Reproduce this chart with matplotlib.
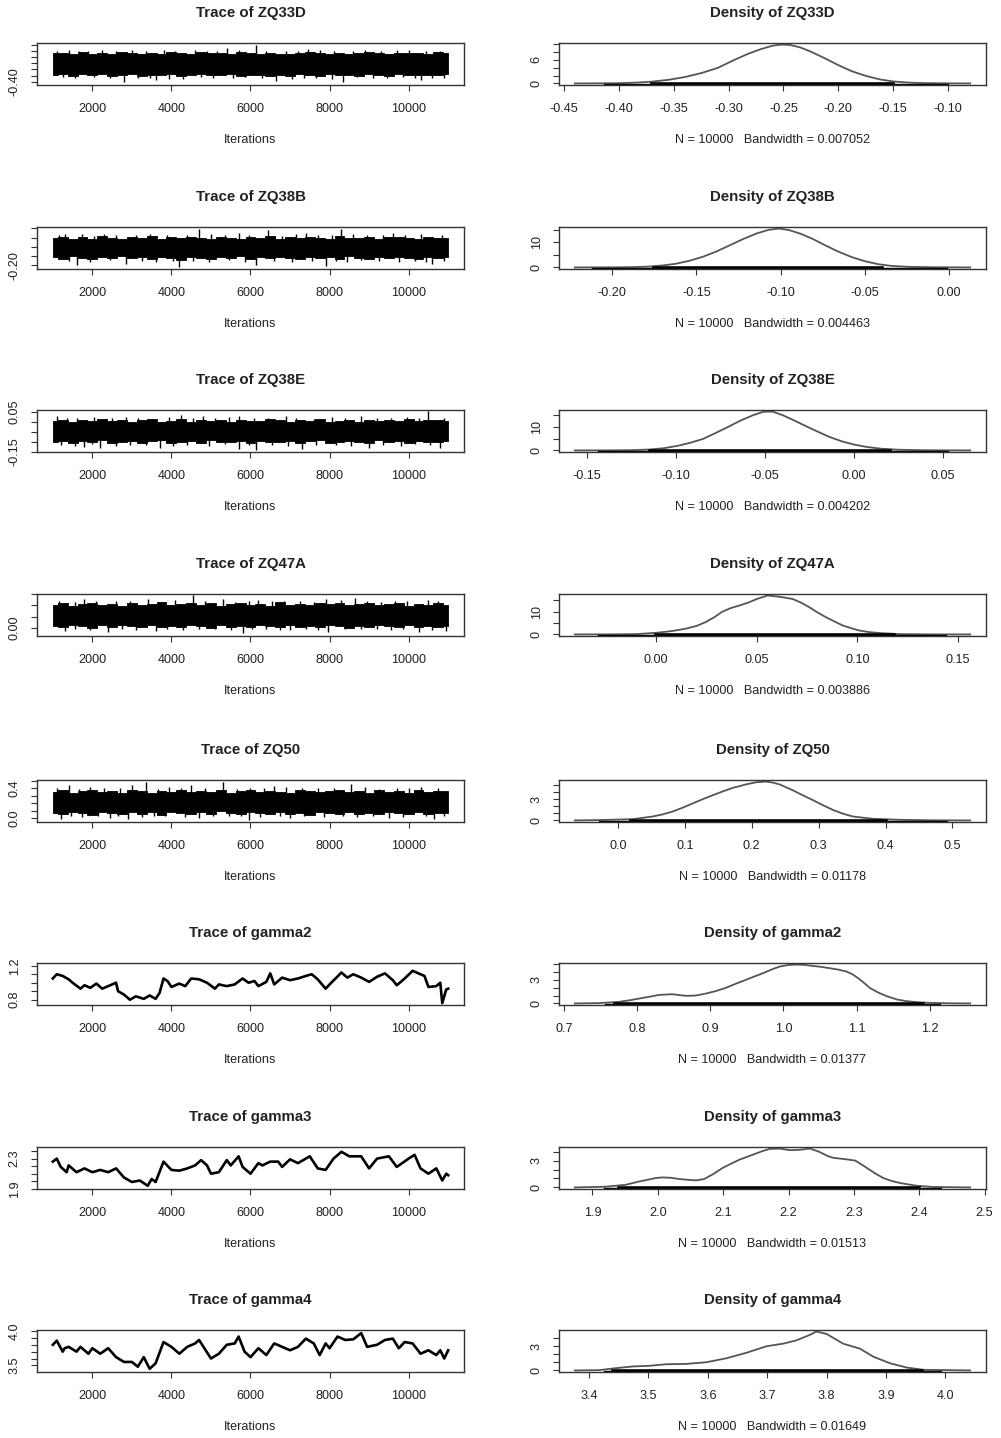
import numpy as np
import matplotlib.pyplot as plt

plt.rcParams['font.family'] = ['Liberation Sans', 'DejaVu Sans']
plt.rcParams['axes.unicode_minus'] = False

W, H = 1001, 1438

# ---- data ----
names = ['ZQ33D', 'ZQ38B', 'ZQ38E', 'ZQ47A', 'ZQ50', 'gamma2', 'gamma3', 'gamma4']
bandwidths = ['0.007052', '0.004463', '0.004202', '0.003886', '0.01178', '0.01377', '0.01513', '0.01649']
n_draws = 10000
first_iter, last_iter = 1000, 11000
iter_ticks = [2000, 4000, 6000, 8000, 10000]

# range of the draws (ends of the rug) and dense part of the rug
draw_min = [-0.413, -0.212, -0.144, -0.029, -0.029, 0.756, 1.918, 3.426]
draw_max = [-0.100, -0.001, 0.053, 0.144, 0.492, 1.214, 2.433, 3.993]
rug_lo = [-0.37, -0.175, -0.115, 0.000, 0.02, 0.77, 1.94, 3.44]
rug_hi = [-0.15, -0.040, 0.020, 0.118, 0.40, 1.19, 2.40, 3.96]

# trace y axis ticks ('' = tick without label)
trace_ytick_labels = [
    ['-0.40', '', '', '', '', '', ''],
    ['-0.20', '', '', '', ''],
    ['-0.15', '', '', '', '0.05'],
    ['0.00', '', '', ''],
    ['0.0', '', '', '', '0.4', ''],
    ['0.8', '', '', '', '1.2'],
    ['1.9', '', '', '', '2.3', ''],
    ['3.5', '', '', '', '', '4.0'],
]
trace_yticks = [
    [-0.40, -0.35, -0.30, -0.25, -0.20, -0.15, -0.10],
    [-0.20, -0.15, -0.10, -0.05, 0.00],
    [-0.15, -0.10, -0.05, 0.00, 0.05],
    [0.00, 0.05, 0.10, 0.15],
    [0.0, 0.1, 0.2, 0.3, 0.4, 0.5],
    [0.8, 0.9, 1.0, 1.1, 1.2],
    [1.9, 2.0, 2.1, 2.2, 2.3, 2.4],
    [3.5, 3.6, 3.7, 3.8, 3.9, 4.0],
]

# density axes ticks
dens_xtick_labels = [
    ['-0.45', '-0.40', '-0.35', '-0.30', '-0.25', '-0.20', '-0.15', '-0.10'],
    ['-0.20', '-0.15', '-0.10', '-0.05', '0.00'],
    ['-0.15', '-0.10', '-0.05', '0.00', '0.05'],
    ['0.00', '0.05', '0.10', '0.15'],
    ['0.0', '0.1', '0.2', '0.3', '0.4', '0.5'],
    ['0.7', '0.8', '0.9', '1.0', '1.1', '1.2'],
    ['1.9', '2.0', '2.1', '2.2', '2.3', '2.4', '2.5'],
    ['3.4', '3.5', '3.6', '3.7', '3.8', '3.9', '4.0'],
]
dens_yticks = [
    [0, 2, 4, 6, 8, 10],
    [0, 5, 10, 15],
    [0, 5, 10, 15],
    [0, 5, 10, 15],
    [0, 1, 2, 3, 4, 5],
    [0, 1, 2, 3, 4, 5],
    [0, 1, 2, 3, 4],
    [0, 1, 2, 3, 4],
]
dens_ytick_labels = [
    ['0', '', '', '6', '', ''],
    ['0', '', '10', ''],
    ['0', '', '10', ''],
    ['0', '', '10', ''],
    ['0', '', '', '3', '', ''],
    ['0', '', '', '3', '', ''],
    ['0', '', '', '3', ''],
    ['0', '', '', '3', ''],
]

# density curves
dens_x_zq33d = [-0.440, -0.420, -0.400, -0.385, -0.370, -0.355, -0.340, -0.325, -0.310, -0.295,
                -0.282, -0.270, -0.260, -0.252, -0.244, -0.235, -0.225, -0.212, -0.200, -0.188,
                -0.175, -0.162, -0.150, -0.135, -0.120, -0.100, -0.080]
dens_y_zq33d = [0.0, 0.02, 0.07, 0.2, 0.45, 0.9, 1.6, 2.6, 3.9, 5.9,
                7.5, 8.7, 9.5, 9.8, 9.7, 9.1, 8.0, 6.3, 4.6, 3.1,
                1.9, 1.0, 0.5, 0.2, 0.08, 0.02, 0.0]
dens_x_zq38b = [-0.2223, -0.200, -0.188, -0.178, -0.170, -0.162, -0.154, -0.146, -0.138, -0.130,
                -0.122, -0.114, -0.107, -0.101, -0.095, -0.088, -0.081, -0.074, -0.066, -0.058,
                -0.050, -0.042, -0.034, -0.024, -0.010, 0.0127]
dens_y_zq38b = [0.0, 0.05, 0.12, 0.35, 0.8, 1.5, 2.7, 4.3, 6.4, 8.9,
                11.4, 13.6, 15.0, 15.5, 14.9, 13.4, 11.4, 9.0, 6.4, 4.2,
                2.5, 1.3, 0.6, 0.25, 0.08, 0.0]
dens_x_zq38e = [-0.157, -0.135, -0.125, -0.115, -0.107, -0.099, -0.092, -0.085, -0.078, -0.071,
                -0.064, -0.057, -0.051, -0.046, -0.040, -0.034, -0.028, -0.021, -0.014, -0.007,
                0.000, 0.007, 0.015, 0.025, 0.040, 0.0652]
dens_y_zq38e = [0.0, 0.05, 0.12, 0.4, 0.95, 2.0, 3.3, 4.9, 7.4, 10.0,
                12.7, 15.0, 16.5, 16.6, 15.0, 12.9, 10.7, 8.2, 5.8, 3.9,
                2.5, 1.5, 0.75, 0.3, 0.08, 0.0]
dens_x_zq47a = [-0.0404, -0.020, -0.010, 0.000, 0.008, 0.0146, 0.020, 0.0246, 0.029, 0.033,
                0.037, 0.0412, 0.046, 0.050, 0.0553, 0.0611, 0.0678, 0.072, 0.0761, 0.080,
                0.0844, 0.089, 0.0927, 0.097, 0.101, 0.106, 0.111, 0.121, 0.135, 0.156]
dens_y_zq47a = [0.0, 0.05, 0.15, 0.7, 1.5, 2.5, 3.7, 5.4, 7.6, 10.0,
                11.5, 12.6, 14.0, 15.5, 17.0, 16.5, 15.5, 13.9, 11.9, 9.7,
                7.5, 5.5, 3.9, 2.7, 1.7, 1.0, 0.6, 0.15, 0.04, 0.0]
dens_x_zq50 = [-0.0645, -0.0285, 0.0215, 0.0515, 0.0665, 0.0815, 0.0965, 0.1115, 0.1265, 0.1415,
               0.1565, 0.1715, 0.1915, 0.2065, 0.2215, 0.2315, 0.2415, 0.2615, 0.2765, 0.2915,
               0.3065, 0.3215, 0.3365, 0.3515, 0.3815, 0.4215, 0.4700, 0.5265]
dens_y_zq50 = [0.0, 0.05, 0.18, 0.55, 0.85, 1.25, 1.8, 2.4, 3.0, 3.56,
               4.1, 4.6, 5.1, 5.4, 5.5, 5.35, 5.1, 4.26, 3.55, 2.87,
               2.15, 1.48, 0.95, 0.55, 0.23, 0.09, 0.02, 0.0]
dens_x_gamma2 = [0.715, 0.748, 0.775, 0.790, 0.803, 0.817, 0.830, 0.848, 0.867, 0.880,
                 0.894, 0.907, 0.921, 0.935, 0.949, 0.960, 0.972, 0.984, 0.995, 1.006,
                 1.017, 1.028, 1.040, 1.052, 1.063, 1.075, 1.086, 1.094, 1.102, 1.110,
                 1.118, 1.130, 1.141, 1.155, 1.168, 1.185, 1.200, 1.225, 1.255]
dens_y_gamma2 = [0.0, 0.04, 0.2, 0.4, 0.62, 0.85, 1.08, 1.17, 0.96, 1.0,
                 1.25, 1.55, 1.96, 2.5, 3.0, 3.4, 3.83, 4.3, 4.67, 4.85,
                 4.92, 4.88, 4.75, 4.62, 4.46, 4.28, 4.04, 3.7, 3.2, 2.6,
                 1.96, 1.35, 0.92, 0.5, 0.29, 0.14, 0.08, 0.02, 0.0]
dens_x_gamma3 = [1.873, 1.920, 1.951, 1.972, 1.997, 2.007, 2.020, 2.033, 2.046, 2.059,
                 2.071, 2.085, 2.099, 2.112, 2.125, 2.146, 2.160, 2.171, 2.186, 2.202,
                 2.217, 2.233, 2.248, 2.260, 2.269, 2.284, 2.302, 2.311, 2.320, 2.333,
                 2.345, 2.358, 2.371, 2.396, 2.422, 2.478]
dens_y_gamma3 = [0.0, 0.08, 0.3, 0.67, 1.05, 1.12, 1.08, 0.94, 0.85, 0.79,
                 0.94, 1.5, 2.17, 2.65, 3.1, 3.67, 4.05, 4.3, 4.34, 4.16,
                 4.2, 4.34, 3.95, 3.5, 3.3, 3.18, 3.0, 2.6, 2.17, 1.55,
                 1.05, 0.72, 0.49, 0.19, 0.05, 0.0]
dens_x_gamma4 = [3.376, 3.417, 3.445, 3.473, 3.501, 3.530, 3.563, 3.597, 3.631, 3.665,
                 3.699, 3.727, 3.749, 3.772, 3.783, 3.800, 3.828, 3.856, 3.879, 3.907,
                 3.935, 3.963, 4.042]
dens_y_gamma4 = [0.0, 0.04, 0.28, 0.49, 0.57, 0.77, 0.81, 1.01, 1.5, 2.19,
                 3.0, 3.32, 3.72, 4.41, 4.82, 4.53, 3.32, 2.71, 1.7, 0.89,
                 0.36, 0.08, 0.0]

# well mixed chains: band edges every 250 iterations, plus the spikes sticking out
chain_centre = {'ZQ33D': -0.257, 'ZQ38B': -0.105, 'ZQ38E': -0.047, 'ZQ47A': 0.056, 'ZQ50': 0.215}
zq33d_hi = [-0.170, -0.165, -0.178, -0.160, -0.172, -0.168, -0.175, -0.162, -0.170, -0.176, -0.166,
            -0.172, -0.160, -0.169, -0.174, -0.158, -0.171, -0.165, -0.177, -0.163, -0.168, -0.175,
            -0.166, -0.172, -0.178, -0.168, -0.163, -0.171, -0.176, -0.165, -0.173, -0.169, -0.161,
            -0.170, -0.175, -0.164, -0.171, -0.167, -0.174, -0.163, -0.170]
zq33d_lo = [-0.345, -0.338, -0.352, -0.341, -0.348, -0.336, -0.350, -0.343, -0.339, -0.354, -0.342,
            -0.347, -0.337, -0.351, -0.344, -0.340, -0.349, -0.346, -0.338, -0.353, -0.342, -0.348,
            -0.357, -0.344, -0.350, -0.339, -0.346, -0.352, -0.341, -0.348, -0.343, -0.355, -0.340,
            -0.347, -0.351, -0.338, -0.345, -0.349, -0.342, -0.346, -0.340]
zq33d_spike_iter = [1400, 3000, 5400, 6150, 7450, 9700, 2800, 3600, 4300, 6650, 8350, 10300,
                    1100, 1650, 1900, 2250, 2600, 3350, 3800, 4100, 4600, 4900, 5150, 5700,
                    6400, 6900, 7200, 7750, 8100, 8600, 8900, 9300, 10000, 10450, 10800,
                    1250, 1550, 2050, 2450, 3150, 3450, 3950, 4750, 5050, 5550, 5850, 6300,
                    7050, 7350, 7650, 8050, 8700, 9100, 9450, 9850, 10150, 10600, 10900]
zq33d_spike_val = [-0.145, -0.140, -0.125, -0.100, -0.135, -0.140, -0.405, -0.385, -0.380, -0.390, -0.400, -0.385,
                   -0.150, -0.148, -0.155, -0.145, -0.152, -0.150, -0.147, -0.153, -0.146, -0.151, -0.149, -0.144,
                   -0.150, -0.155, -0.148, -0.146, -0.152, -0.149, -0.147, -0.153, -0.145, -0.150, -0.148,
                   -0.365, -0.370, -0.362, -0.372, -0.366, -0.368, -0.375, -0.364, -0.369, -0.371, -0.363, -0.367,
                   -0.374, -0.366, -0.370, -0.378, -0.365, -0.372, -0.368, -0.363, -0.371, -0.367, -0.369]

zq38b_hi = [-0.052, -0.045, -0.058, -0.048, -0.055, -0.043, -0.050, -0.057, -0.047, -0.053, -0.044,
            -0.056, -0.049, -0.054, -0.046, -0.051, -0.058, -0.045, -0.050, -0.055, -0.047, -0.052,
            -0.043, -0.056, -0.049, -0.054, -0.046, -0.051, -0.057, -0.044, -0.050, -0.053, -0.047,
            -0.055, -0.049, -0.045, -0.052, -0.056, -0.048, -0.051, -0.054]
zq38b_lo = [-0.158, -0.165, -0.152, -0.162, -0.168, -0.155, -0.160, -0.150, -0.163, -0.157, -0.166,
            -0.154, -0.161, -0.169, -0.153, -0.159, -0.164, -0.156, -0.162, -0.151, -0.167, -0.158,
            -0.163, -0.155, -0.160, -0.166, -0.153, -0.161, -0.157, -0.164, -0.152, -0.159, -0.168,
            -0.156, -0.162, -0.154, -0.160, -0.165, -0.157, -0.163, -0.158]
zq38b_spike_iter = [1300, 2300, 4700, 5700, 6450, 7400, 8300, 9600, 1600, 2850, 4200, 6150, 7900, 10600,
                    1150, 1750, 2050, 2600, 3100, 3450, 3900, 4400, 5000, 5350, 5950, 6800, 7150,
                    7700, 8050, 8600, 8950, 9350, 9900, 10300, 10850,
                    1400, 1950, 2450, 3250, 3600, 4050, 4550, 4950, 5450, 5850, 6600, 7050,
                    7550, 8150, 8450, 8800, 9250, 9750, 10150, 10450, 10900]
zq38b_spike_val = [-0.030, -0.028, -0.002, -0.025, -0.008, -0.026, -0.003, -0.027,
                   -0.200, -0.195, -0.208, -0.198, -0.205, -0.192,
                   -0.036, -0.033, -0.039, -0.034, -0.037, -0.031, -0.035, -0.038, -0.032, -0.036,
                   -0.034, -0.039, -0.033, -0.037, -0.035, -0.031, -0.038, -0.034, -0.036, -0.033, -0.037,
                   -0.176, -0.181, -0.174, -0.179, -0.183, -0.175, -0.178, -0.182, -0.173, -0.180,
                   -0.177, -0.184, -0.175, -0.179, -0.181, -0.174, -0.178, -0.182, -0.176, -0.180, -0.177]

zq38e_hi = [0.006, 0.012, 0.000, 0.009, 0.003, 0.014, 0.004, 0.010, -0.001, 0.008, 0.013,
            0.002, 0.007, 0.015, 0.001, 0.009, 0.005, 0.011, 0.000, 0.012, 0.006, 0.003,
            0.014, 0.008, 0.001, 0.010, 0.005, 0.013, 0.002, 0.007, 0.011, 0.000, 0.009,
            0.004, 0.012, 0.006, 0.015, 0.003, 0.008, 0.010, 0.004]
zq38e_lo = [-0.100, -0.094, -0.106, -0.097, -0.103, -0.092, -0.108, -0.099, -0.095, -0.104, -0.098,
            -0.093, -0.107, -0.101, -0.096, -0.105, -0.091, -0.100, -0.103, -0.097, -0.108, -0.094,
            -0.102, -0.099, -0.095, -0.106, -0.098, -0.092, -0.104, -0.100, -0.096, -0.103, -0.107,
            -0.093, -0.101, -0.098, -0.105, -0.095, -0.102, -0.099, -0.096]
zq38e_spike_iter = [1100, 2850, 4250, 4800, 5700, 6900, 8800, 10500, 1800, 2200, 3700, 5700, 6150, 7300, 9000, 10800,
                    1350, 1600, 2050, 2500, 3150, 3500, 3950, 4550, 5100, 5450, 6100, 6450, 7150,
                    7600, 8050, 8400, 9200, 9550, 9950, 10250, 10900,
                    1200, 1550, 2000, 2600, 2950, 3350, 4050, 4400, 4950, 5350, 5950, 6550, 6950,
                    7650, 8150, 8550, 9350, 9800, 10150, 10550]
zq38e_spike_val = [0.030, 0.025, 0.035, 0.030, 0.033, 0.030, 0.028, 0.055,
                   -0.128, -0.132, -0.130, -0.138, -0.143, -0.135, -0.130, -0.132,
                   0.021, 0.018, 0.024, 0.019, 0.022, 0.017, 0.023, 0.020, 0.018, 0.024, 0.021,
                   0.019, 0.022, 0.017, 0.023, 0.020, 0.018, 0.021, 0.024, 0.019, 0.022,
                   -0.115, -0.119, -0.113, -0.121, -0.117, -0.114, -0.120, -0.116, -0.122, -0.113,
                   -0.118, -0.115, -0.120, -0.117, -0.114, -0.121, -0.116, -0.119, -0.113, -0.118]

zq47a_hi = [0.104, 0.110, 0.098, 0.107, 0.113, 0.101, 0.106, 0.099, 0.111, 0.103, 0.108,
            0.115, 0.100, 0.106, 0.109, 0.102, 0.112, 0.097, 0.105, 0.110, 0.103, 0.108,
            0.099, 0.114, 0.104, 0.107, 0.101, 0.111, 0.106, 0.113, 0.100, 0.105, 0.109,
            0.102, 0.108, 0.111, 0.099, 0.106, 0.103, 0.110, 0.104]
zq47a_lo = [0.010, 0.004, 0.013, 0.007, 0.001, 0.011, 0.005, 0.014, 0.008, 0.002, 0.012,
            0.006, 0.009, 0.003, 0.013, 0.007, 0.000, 0.011, 0.005, 0.010, 0.004, 0.013,
            0.008, 0.002, 0.011, 0.006, 0.009, 0.003, 0.012, 0.007, 0.001, 0.010, 0.005,
            0.013, 0.008, 0.003, 0.011, 0.006, 0.009, 0.004, 0.010]
zq47a_spike_iter = [1800, 3400, 4550, 5300, 6200, 7900, 8650, 10500, 1300, 2400, 3600, 5800, 7000, 7950, 10250, 10950,
                    1150, 1550, 2100, 2600, 2950, 3750, 4100, 4850, 5600, 5950, 6550, 6850, 7250,
                    7600, 8300, 8950, 9300, 9650, 9950, 10750,
                    1550, 1950, 2750, 3100, 3900, 4300, 4700, 5100, 5500, 6050, 6400, 6750, 7400,
                    7700, 8400, 8800, 9200, 9550, 9850, 10600]
zq47a_spike_val = [0.130, 0.128, 0.146, 0.127, 0.124, 0.130, 0.133, 0.126,
                   -0.012, -0.020, -0.015, -0.022, -0.010, -0.018, -0.020, -0.014,
                   0.120, 0.117, 0.122, 0.118, 0.121, 0.116, 0.123, 0.119, 0.117, 0.122, 0.120,
                   0.118, 0.121, 0.116, 0.123, 0.119, 0.117, 0.121, 0.118, 0.122,
                   -0.006, -0.009, -0.004, -0.008, -0.005, -0.010, -0.006, -0.003, -0.009, -0.007,
                   -0.004, -0.008, -0.006, -0.010, -0.005, -0.007, -0.003, -0.009, -0.006, -0.008]

zq50_hi = [0.355, 0.375, 0.340, 0.365, 0.382, 0.350, 0.370, 0.345, 0.378, 0.360, 0.338,
           0.372, 0.356, 0.385, 0.348, 0.366, 0.352, 0.376, 0.343, 0.362, 0.380, 0.349,
           0.368, 0.357, 0.339, 0.374, 0.361, 0.346, 0.371, 0.383, 0.351, 0.364, 0.344,
           0.377, 0.358, 0.369, 0.341, 0.373, 0.354, 0.367, 0.360]
zq50_lo = [0.075, 0.058, 0.088, 0.065, 0.050, 0.082, 0.070, 0.055, 0.090, 0.062, 0.078,
           0.048, 0.085, 0.068, 0.057, 0.080, 0.060, 0.092, 0.066, 0.052, 0.083, 0.072,
           0.056, 0.087, 0.063, 0.077, 0.049, 0.081, 0.069, 0.058, 0.086, 0.064, 0.074,
           0.053, 0.089, 0.067, 0.059, 0.079, 0.061, 0.071, 0.066]
zq50_spike_iter = [1400, 3000, 3350, 4500, 5300, 6600, 8550, 10300, 1200, 2450, 2900, 4700, 5950, 7000, 9500, 10650,
                   1100, 1650, 1950, 2300, 2700, 3650, 3950, 4250, 4850, 5650, 6000, 6350, 6900,
                   7300, 7700, 8100, 8900, 9250, 9700, 10000, 10750,
                   1450, 1750, 2150, 2650, 3250, 3550, 3850, 4350, 5050, 5450, 5750, 6250, 6750,
                   7350, 7850, 8350, 8700, 9100, 9850, 10450, 10900]
zq50_spike_val = [0.44, 0.44, 0.49, 0.44, 0.48, 0.43, 0.46, 0.42,
                  -0.010, 0.000, -0.010, 0.010, -0.020, 0.000, 0.000, -0.015,
                  0.405, 0.395, 0.415, 0.400, 0.410, 0.398, 0.420, 0.403, 0.412, 0.396, 0.408,
                  0.401, 0.417, 0.399, 0.410, 0.404, 0.414, 0.397, 0.406, 0.411, 0.402,
                  0.030, 0.022, 0.035, 0.025, 0.018, 0.032, 0.027, 0.020, 0.034, 0.024,
                  0.029, 0.019, 0.033, 0.026, 0.021, 0.031, 0.023, 0.028, 0.018, 0.030, 0.025]

# slowly mixing chains: path
gamma2_iter = [1000, 1100, 1250, 1400, 1500, 1700, 1800, 1950, 2100, 2250, 2400, 2600, 2650, 2800,
               2950, 3100, 3300, 3450, 3600, 3700, 3800, 3900, 4000, 4200, 4350, 4500, 4700, 4900,
               5100, 5200, 5400, 5600, 5800, 5950, 6100, 6200, 6400, 6500, 6600, 6800, 7000, 7200,
               7400, 7550, 7700, 7900, 8000, 8300, 8450, 8600, 8800, 9000, 9200, 9400, 9600, 9700,
               9900, 10100, 10200, 10400, 10500, 10700, 10800, 10850, 10950, 11000]
gamma2_val = [1.05, 1.10, 1.08, 1.04, 1.00, 0.93, 0.97, 0.94, 0.99, 0.93, 0.96, 1.00, 0.90, 0.86,
              0.80, 0.84, 0.81, 0.85, 0.81, 0.88, 1.05, 1.02, 0.95, 0.99, 0.96, 1.05, 1.04, 1.00,
              0.93, 0.98, 0.96, 0.98, 1.05, 1.00, 1.02, 0.96, 1.01, 1.11, 0.98, 1.06, 1.03, 1.05,
              1.08, 1.10, 1.04, 0.93, 0.98, 1.12, 1.06, 1.10, 1.06, 1.01, 1.07, 1.11, 1.03, 0.97,
              1.05, 1.14, 1.12, 1.08, 0.95, 0.96, 1.00, 0.76, 0.92, 0.93]
gamma3_iter = [1000, 1100, 1200, 1350, 1400, 1600, 1800, 2000, 2200, 2400, 2600, 2800, 3000, 3200,
               3400, 3500, 3600, 3800, 4000, 4200, 4400, 4600, 4750, 4900, 5000, 5200, 5400, 5500,
               5700, 5800, 6000, 6200, 6300, 6500, 6700, 6800, 7000, 7200, 7500, 7700, 7900, 8100,
               8300, 8500, 8800, 9000, 9200, 9500, 9700, 10000, 10150, 10300, 10500, 10700, 10850,
               10950, 11000]
gamma3_val = [2.26, 2.30, 2.19, 2.12, 2.21, 2.12, 2.17, 2.12, 2.15, 2.12, 2.17, 2.05, 1.99, 2.01,
              1.94, 2.03, 1.99, 2.26, 2.15, 2.14, 2.17, 2.21, 2.28, 2.21, 2.10, 2.12, 2.28, 2.21,
              2.33, 2.19, 2.10, 2.24, 2.21, 2.26, 2.26, 2.19, 2.29, 2.24, 2.33, 2.17, 2.15, 2.30,
              2.39, 2.33, 2.33, 2.17, 2.30, 2.33, 2.19, 2.30, 2.35, 2.17, 2.10, 2.17, 2.01,
              2.10, 2.08]
gamma4_iter = [1000, 1100, 1250, 1300, 1400, 1600, 1700, 1900, 2000, 2200, 2400, 2600, 2800, 3000,
               3150, 3300, 3450, 3600, 3800, 4000, 4200, 4400, 4600, 4700, 5000, 5200, 5400, 5600,
               5700, 5850, 6000, 6200, 6400, 6600, 6800, 7000, 7200, 7400, 7600, 7750, 7900, 8000,
               8200, 8400, 8600, 8800, 8950, 9200, 9400, 9600, 9750, 9900, 10100, 10300, 10500,
               10700, 10800, 10900, 11000]
gamma4_val = [3.80, 3.86, 3.70, 3.75, 3.77, 3.70, 3.77, 3.67, 3.75, 3.67, 3.75, 3.62, 3.55, 3.55,
              3.48, 3.62, 3.45, 3.53, 3.84, 3.77, 3.67, 3.77, 3.82, 3.87, 3.60, 3.67, 3.80, 3.82,
              3.92, 3.70, 3.62, 3.75, 3.65, 3.82, 3.77, 3.72, 3.77, 3.89, 3.82, 3.65, 3.82, 3.75,
              3.92, 3.87, 3.88, 3.97, 3.77, 3.80, 3.87, 3.89, 3.75, 3.84, 3.82, 3.67, 3.72,
              3.65, 3.72, 3.60, 3.72]

# lookup tables for the loop
dens_curves = {
    'ZQ33D': (dens_x_zq33d, dens_y_zq33d), 'ZQ38B': (dens_x_zq38b, dens_y_zq38b),
    'ZQ38E': (dens_x_zq38e, dens_y_zq38e), 'ZQ47A': (dens_x_zq47a, dens_y_zq47a),
    'ZQ50': (dens_x_zq50, dens_y_zq50), 'gamma2': (dens_x_gamma2, dens_y_gamma2),
    'gamma3': (dens_x_gamma3, dens_y_gamma3), 'gamma4': (dens_x_gamma4, dens_y_gamma4),
}
noisy = {
    'ZQ33D': (zq33d_hi, zq33d_lo, zq33d_spike_iter, zq33d_spike_val),
    'ZQ38B': (zq38b_hi, zq38b_lo, zq38b_spike_iter, zq38b_spike_val),
    'ZQ38E': (zq38e_hi, zq38e_lo, zq38e_spike_iter, zq38e_spike_val),
    'ZQ47A': (zq47a_hi, zq47a_lo, zq47a_spike_iter, zq47a_spike_val),
    'ZQ50': (zq50_hi, zq50_lo, zq50_spike_iter, zq50_spike_val),
}
paths = {
    'gamma2': (gamma2_iter, gamma2_val),
    'gamma3': (gamma3_iter, gamma3_val),
    'gamma4': (gamma4_iter, gamma4_val),
}

# ---- layout (pixels) ----
col_left = [37, 559]
box_w, box_h = 427, 42
box_top = [43, 227, 410, 594, 780, 963, 1147, 1330]
txt_col = '#222222'
fs_main, fs_small = 10.8, 9.1


def add_box(x0, top):
    return fig.add_axes([x0 / W, 1 - (top + box_h) / H, box_w / W, box_h / H])


def style(ax):
    for sp in ax.spines.values():
        sp.set_color('#333333')
        sp.set_linewidth(1.0)
    ax.tick_params(direction='out', length=4.3, width=0.8, color='#333333',
                   labelcolor=txt_col, labelsize=fs_small)
    ax.tick_params(axis='x', pad=9.0)
    ax.tick_params(axis='y', pad=7.5)


def put_text(cx, y, s, **kw):
    fig.text(cx / W, 1 - y / H, s, ha='center', va='center', color=txt_col, **kw)


fig = plt.figure(figsize=(W / 100, H / 100), dpi=100)

span = last_iter - first_iter
for i, name in enumerate(names):
    top = box_top[i]

    # trace
    ax = add_box(col_left[0], top)
    style(ax)
    if name in noisy:
        hi, lo, sp_it, sp_val = noisy[name]
        xh = np.linspace(first_iter, last_iter, len(hi))
        ax.fill_between(xh, lo, hi, step='mid', color='black', lw=0.6)
        ax.vlines(sp_it, chain_centre[name], sp_val, color='black', lw=1.0)
    else:
        it, val = paths[name]
        ax.plot(it, val, color='black', lw=1.9)
    ax.set_xlim(first_iter - 0.04 * span, last_iter + 0.04 * span)
    dr = draw_max[i] - draw_min[i]
    ax.set_ylim(draw_min[i] - 0.04 * dr, draw_max[i] + 0.04 * dr)
    ax.set_xticks(iter_ticks)
    ax.set_xticklabels([str(t) for t in iter_ticks])
    ax.set_yticks(trace_yticks[i])
    ax.set_yticklabels(trace_ytick_labels[i], rotation=90, va='center')
    cx = col_left[0] + box_w / 2
    put_text(cx, top - 30, 'Trace of ' + name, fontsize=fs_main, fontweight='bold')
    put_text(cx, top + box_h + 55, 'Iterations', fontsize=fs_small)

    # density
    ax = add_box(col_left[1], top)
    style(ax)
    dx, dy = dens_curves[name]
    peak = max(dy)
    ax.plot(dx, dy, color='#555555', lw=1.3)
    ax.plot([draw_min[i], draw_max[i]], [-0.012 * peak] * 2, color='black', lw=1.0)
    ax.plot([rug_lo[i], rug_hi[i]], [-0.012 * peak] * 2, color='black', lw=2.6)
    xr = max(dx) - min(dx)
    ax.set_xlim(min(dx) - 0.04 * xr, max(dx) + 0.04 * xr)
    ax.set_ylim(-0.04 * peak, 1.04 * peak)
    labs = dens_xtick_labels[i]
    ax.set_xticks([float(s) for s in labs])
    ax.set_xticklabels(labs)
    ax.set_yticks(dens_yticks[i])
    ax.set_yticklabels(dens_ytick_labels[i], rotation=90, va='center')
    cx = col_left[1] + box_w / 2
    put_text(cx, top - 30, 'Density of ' + name, fontsize=fs_main, fontweight='bold')
    put_text(cx, top + box_h + 55,
             'N = {}   Bandwidth = {}'.format(n_draws, bandwidths[i]), fontsize=fs_small)

fig.savefig('out.png', dpi=100)
